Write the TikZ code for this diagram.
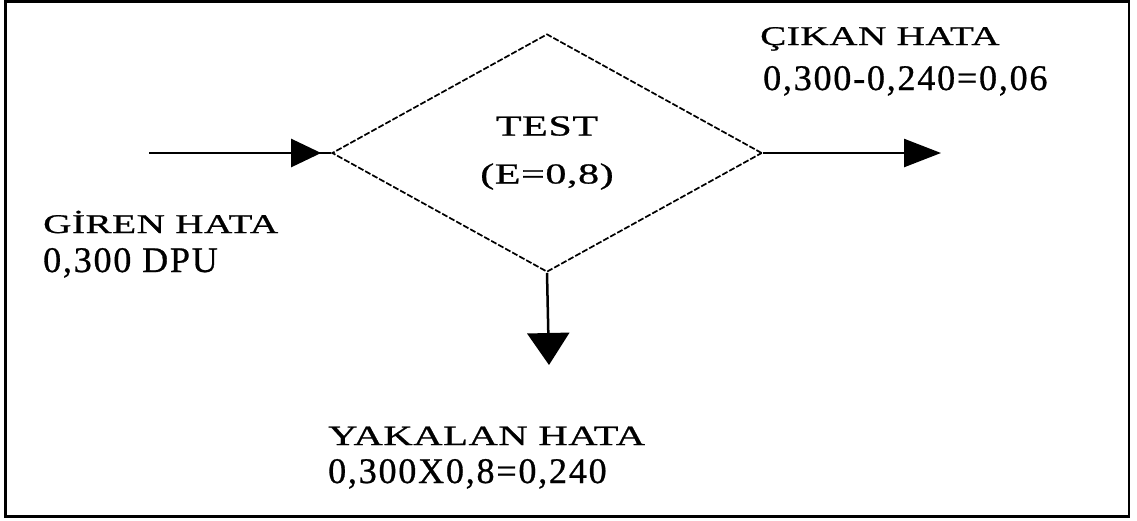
\documentclass[tikz,border=0pt]{standalone}
\usepackage{fontspec}
\usepackage{tikz}
\usetikzlibrary{arrows.meta}
\usetikzlibrary{decorations.markings}
\usetikzlibrary{shapes.geometric}
\newfontfamily\labelfont[FakeStretch=1.45, FakeBold=0.8, LetterSpace=2]{Liberation Serif}
\newfontfamily\numfont[FakeBold=0.8, LetterSpace=5]{Liberation Serif}
\tikzset{flow/.style = {line width=2.5pt}}
\tikzset{headat/.style = {decoration={markings,
                                      mark=at position #1 with {\arrow{Triangle[length=30pt,width=28pt]}}},
                          postaction={decorate}}}
\tikzset{testbox/.style = {diamond, draw, line width=1.7pt, dash pattern=on 6pt off 2pt,
                           inner sep=0, aspect=1.8, minimum width=430pt, minimum height=238pt,
                           align=center, font={\labelfont\fontsize{29}{48}\selectfont}}}
\tikzset{hataad/.style = {anchor=base west, inner sep=0, font={\labelfont\fontsize{27}{27}\selectfont}}}
\tikzset{hatadeger/.style = {anchor=base west, inner sep=0, font={\numfont\fontsize{36}{36}\selectfont}}}

\begin{document}
\begin{tikzpicture}[x=1pt, y=-1pt]
    \useasboundingbox (0,0) rectangle (1137,520);
    \draw [line width=2.5pt] (5.5,1.5) rectangle (1129,516.5);
    \node [testbox] (test) at (547,153) {TEST\\(E=0,8)};
    \coordinate (giris) at (149,153);
    \coordinate (cikis) at (941,153);
    \coordinate (yakalanan) at (549,365);
    \draw [flow, headat=-10pt] (giris) -- (test.west);
    \draw [flow, -{Triangle[length=37pt,width=28pt]}] (test.east) -- (cikis);
    \draw [flow, -{Triangle[length=32pt,width=42pt]}] (test.south) -- (yakalanan);
    \node [hataad] (girenad) at (43,233) {GİREN HATA};
    \node [hatadeger] (girendeger) at (43,272) {0,300 DPU};
    \node [hataad] (cikanad) at (760,45) {ÇIKAN HATA};
    \node [hatadeger] (cikandeger) at (763,90) {0,300-0,240=0,06};
    \node [hataad, font={\labelfont\fontsize{28}{28}\selectfont}] (yakalananad) at (328,445) {YAKALAN HATA};
    \node [hatadeger] (yakalanandeger) at (328,483) {0,300X0,8=0,240};
\end{tikzpicture}
\end{document}
